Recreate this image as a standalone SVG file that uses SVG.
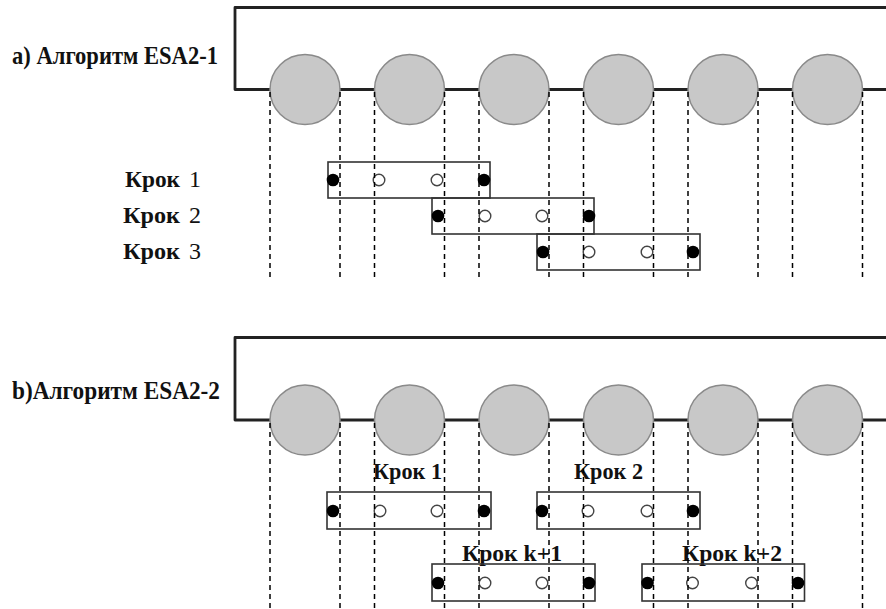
<svg xmlns="http://www.w3.org/2000/svg" width="886" height="609" viewBox="0 0 886 609">
<defs>
<style>
.frame{fill:none;stroke:#222;stroke-width:2.8;stroke-linejoin:round}
.cell{fill:#c8c8c8;stroke:#8a8a8a;stroke-width:1.5}
.dash{stroke:#000;stroke-width:1.5;stroke-dasharray:5 4;fill:none}
.win{fill:none;stroke:#333;stroke-width:1.6}
.fd{fill:#000}
.od{fill:#fff;stroke:#444;stroke-width:1.4}
text{font-family:'Liberation Serif','Times New Roman',serif;font-weight:bold;fill:#111}
.n{font-weight:normal}
</style>
</defs>
<rect width="886" height="609" fill="#fff"/>

<!-- Part a -->
<g id="title-a"><text x="12" y="64" font-size="25" textLength="206" lengthAdjust="spacingAndGlyphs">a) Алгоритм ESA2-1</text></g>
<g id="frame-a"><path class="frame" d="M886 7.5 H235 V89.5 H886"/></g>
<g id="cells-a">
<circle class="cell" cx="305" cy="89.5" r="35"/>
<circle class="cell" cx="409.5" cy="89.5" r="35"/>
<circle class="cell" cx="514" cy="89.5" r="35"/>
<circle class="cell" cx="618.5" cy="89.5" r="35"/>
<circle class="cell" cx="723" cy="89.5" r="35"/>
<circle class="cell" cx="827.5" cy="89.5" r="35"/>
</g>

<!-- Part b -->
<g id="title-b"><text x="12" y="399" font-size="25" textLength="208" lengthAdjust="spacingAndGlyphs">b)Алгоритм ESA2-2</text></g>
<g id="frame-b"><path class="frame" d="M886 337.5 H235 V420 H886"/></g>
<g id="cells-b">
<circle class="cell" cx="305" cy="420" r="35"/>
<circle class="cell" cx="409.5" cy="420" r="35"/>
<circle class="cell" cx="514" cy="420" r="35"/>
<circle class="cell" cx="618.5" cy="420" r="35"/>
<circle class="cell" cx="723" cy="420" r="35"/>
<circle class="cell" cx="827.5" cy="420" r="35"/>
</g>

<!-- Steps a -->
<g id="a-step1">
<text x="125" y="187" font-size="24" textLength="55" lengthAdjust="spacingAndGlyphs">Крок</text><text class="n" x="189" y="187" font-size="24">1</text>
<rect class="win" x="328" y="162" width="162" height="36"/>
<circle class="od" cx="379" cy="180" r="5.8"/><circle class="od" cx="437" cy="180" r="5.8"/>
<circle class="fd" cx="333" cy="180" r="6.3"/><circle class="fd" cx="484" cy="180" r="6.3"/>
</g>
<g id="a-step2">
<text x="123" y="223" font-size="24" textLength="57" lengthAdjust="spacingAndGlyphs">Крок</text><text class="n" x="189" y="223" font-size="24">2</text>
<rect class="win" x="432" y="198" width="162" height="36"/>
<circle class="od" cx="485" cy="216" r="5.8"/><circle class="od" cx="542" cy="216" r="5.8"/>
<circle class="fd" cx="438" cy="216" r="6.3"/><circle class="fd" cx="589" cy="216" r="6.3"/>
</g>
<g id="a-step3">
<text x="123" y="259" font-size="24" textLength="57" lengthAdjust="spacingAndGlyphs">Крок</text><text class="n" x="189" y="259" font-size="24">3</text>
<rect class="win" x="537" y="234" width="163" height="36"/>
<circle class="od" cx="589" cy="252" r="5.8"/><circle class="od" cx="647" cy="252" r="5.8"/>
<circle class="fd" cx="543" cy="252" r="6.3"/><circle class="fd" cx="693" cy="252" r="6.3"/>
</g>

<!-- Steps b -->
<g id="b-step1">
<text x="373" y="479" font-size="24" textLength="69" lengthAdjust="spacingAndGlyphs">Крок 1</text>
<rect class="win" x="327" y="492" width="164" height="37"/>
<circle class="od" cx="380" cy="511" r="5.8"/><circle class="od" cx="437" cy="511" r="5.8"/>
<circle class="fd" cx="333" cy="511" r="6.3"/><circle class="fd" cx="484" cy="511" r="6.3"/>
</g>
<g id="b-step2">
<text x="574" y="479" font-size="24" textLength="69" lengthAdjust="spacingAndGlyphs">Крок 2</text>
<rect class="win" x="537" y="492" width="163" height="37"/>
<circle class="od" cx="588" cy="511" r="5.8"/><circle class="od" cx="647" cy="511" r="5.8"/>
<circle class="fd" cx="542" cy="511" r="6.3"/><circle class="fd" cx="693" cy="511" r="6.3"/>
</g>
<g id="b-stepk1">
<text x="462" y="560.5" font-size="24" textLength="100" lengthAdjust="spacingAndGlyphs">Крок k+1</text>
<rect class="win" x="432" y="564" width="163" height="37"/>
<circle class="od" cx="485" cy="583" r="5.8"/><circle class="od" cx="542" cy="583" r="5.8"/>
<circle class="fd" cx="438" cy="583" r="6.3"/><circle class="fd" cx="589" cy="583" r="6.3"/>
</g>
<g id="b-stepk2">
<text x="682" y="560.5" font-size="24" textLength="100" lengthAdjust="spacingAndGlyphs">Крок k+2</text>
<rect class="win" x="642" y="564" width="162.5" height="37"/>
<circle class="od" cx="692.5" cy="583" r="5.8"/><circle class="od" cx="751.5" cy="583" r="5.8"/>
<circle class="fd" cx="647.5" cy="583" r="6.3"/><circle class="fd" cx="798" cy="583" r="6.3"/>
</g>

<!-- Connectors: dashed cell boundaries -->
<g id="connectors" class="dash">
<path d="M270 92V280M340 92V280M374.5 92V280M444.5 92V280M479 92V280M549 92V280M583.5 92V280M653.5 92V280M688 92V280M758 92V280M792.5 92V280M862.5 92V280"/>
<path d="M270 423V609M340 423V609M374.5 423V609M444.5 423V609M479 423V609M549 423V609M583.5 423V609M653.5 423V609M688 423V609M758 423V609M792.5 423V609M862.5 423V609"/>
</g>
</svg>
